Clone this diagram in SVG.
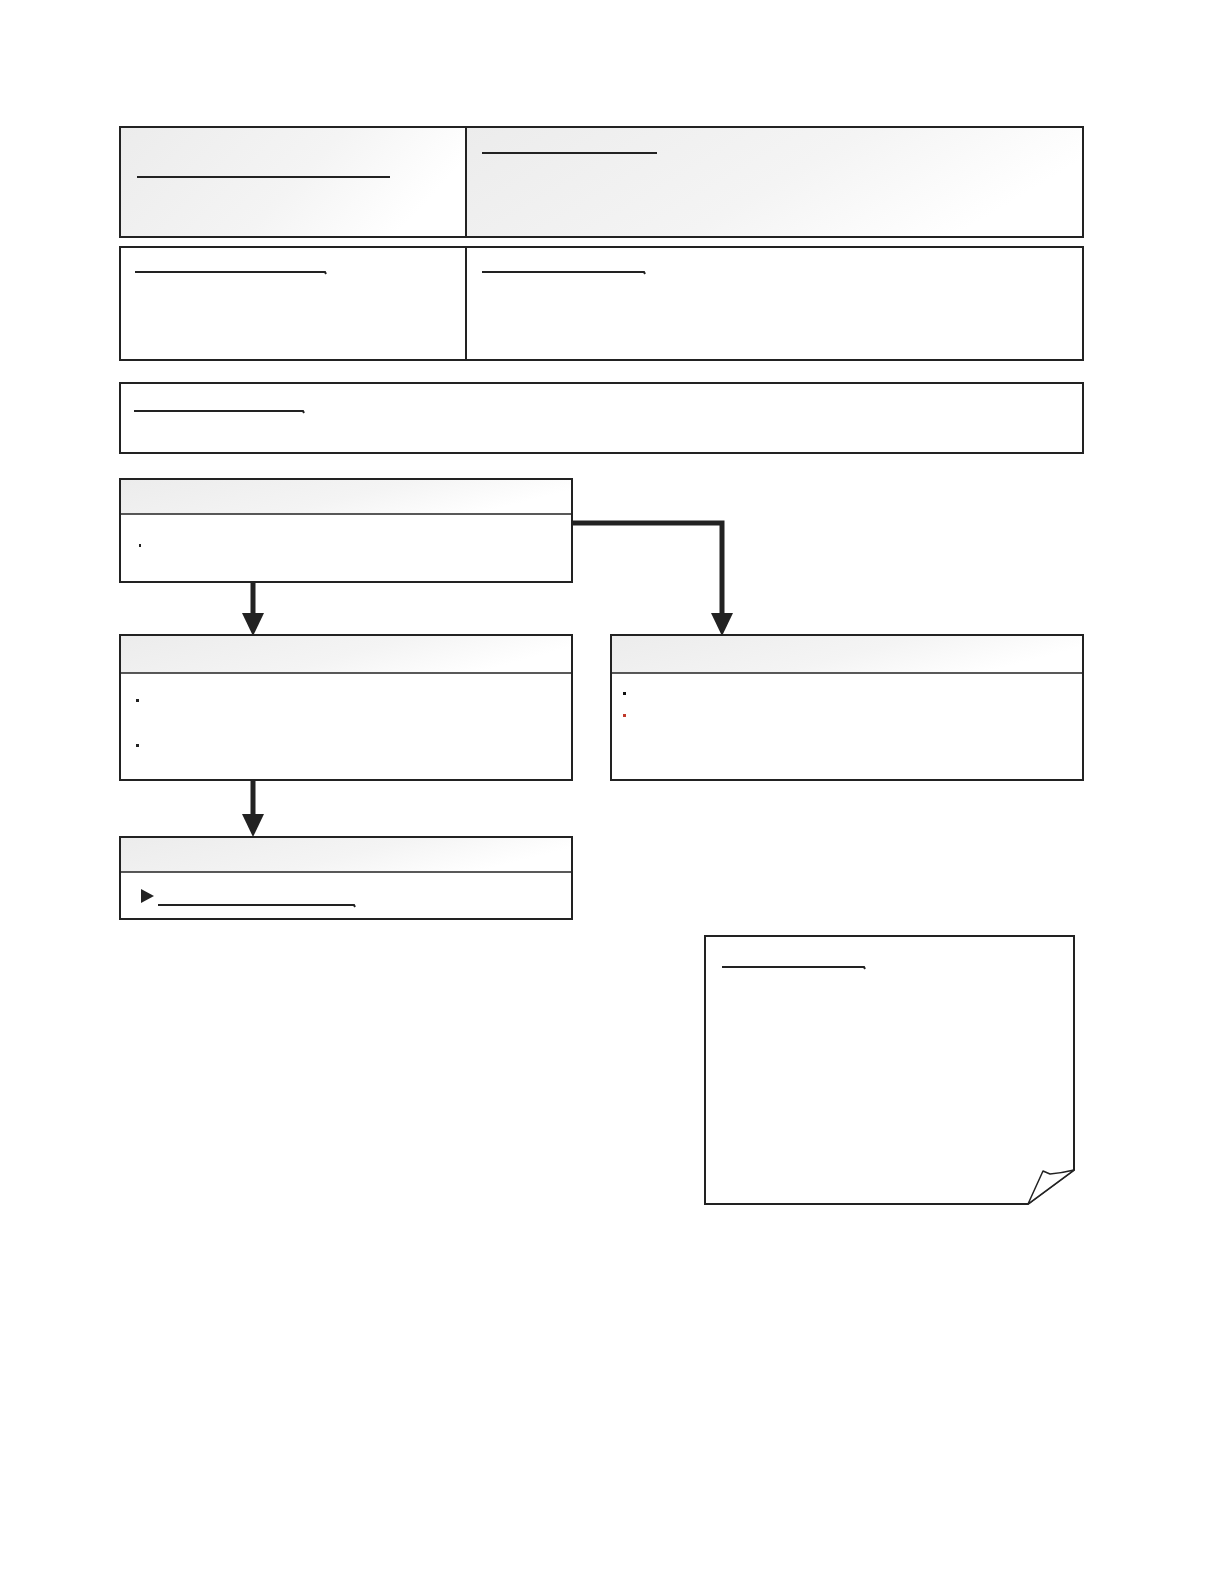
<svg xmlns="http://www.w3.org/2000/svg" width="1224" height="1584" viewBox="0 0 1224 1584">
<defs>
<linearGradient id="g" x1="0" y1="0" x2="1" y2="0.3">
<stop offset="0" stop-color="#ececec"/>
<stop offset="0.6" stop-color="#f4f4f4"/>
<stop offset="1" stop-color="#ffffff"/>
</linearGradient>
<marker id="ah" markerWidth="6" markerHeight="6" refX="5" refY="3" orient="auto" markerUnits="strokeWidth">
<path d="M0,0 L6,3 L0,6 Z" fill="#222"/>
</marker>
</defs>
<style>
.box{fill:#fff;stroke:#222;stroke-width:2}
.gbox{fill:url(#g);stroke:#222;stroke-width:2}
.hdr{fill:url(#g)}
.sep{stroke:#222;stroke-width:1.5}
.ul{stroke:#222;stroke-width:2;fill:none}
.conn{stroke:#222;stroke-width:5;fill:none}
.arrow{fill:#222}
</style>
<rect width="1224" height="1584" fill="#fff"/>
<g id="header-left">
<rect class="gbox" x="120" y="127" width="346" height="110"/>
<line class="ul" x1="137" y1="177" x2="390" y2="177"/>
</g>
<g id="header-right">
<rect class="gbox" x="466" y="127" width="617" height="110"/>
<line class="ul" x1="482" y1="153" x2="657" y2="153"/>
</g>
<g id="info-left">
<rect class="box" x="120" y="247" width="346" height="113"/>
<path class="ul" d="M135,272 H325 L326,274"/>
</g>
<g id="info-right">
<rect class="box" x="466" y="247" width="617" height="113"/>
<path class="ul" d="M482,272 H644 L645,274"/>
</g>
<g id="summary">
<rect class="box" x="120" y="383" width="963" height="70"/>
<path class="ul" d="M134,411 H303 L304,413"/>
</g>
<g id="node-a">
<rect class="box" x="120" y="479" width="452" height="103"/>
<rect class="hdr" x="121" y="480" width="450" height="34"/>
<line class="sep" x1="120" y1="514" x2="572" y2="514"/>
<rect x="139" y="544" width="2" height="3" fill="#222"/>
</g>
<g id="node-b">
<rect class="box" x="120" y="635" width="452" height="145"/>
<rect class="hdr" x="121" y="636" width="450" height="37"/>
<line class="sep" x1="120" y1="673" x2="572" y2="673"/>
<rect x="136" y="699" width="3" height="3" fill="#222"/>
<rect x="136" y="744" width="3" height="3" fill="#222"/>
</g>
<g id="node-c">
<rect class="box" x="611" y="635" width="472" height="145"/>
<rect class="hdr" x="612" y="636" width="470" height="37"/>
<line class="sep" x1="611" y1="673" x2="1083" y2="673"/>
<rect x="623" y="692" width="3" height="3" fill="#111"/>
<rect x="623" y="714" width="3" height="3" fill="#c0392b"/>
</g>
<g id="node-d">
<rect class="box" x="120" y="837" width="452" height="82"/>
<rect class="hdr" x="121" y="838" width="450" height="34"/>
<line class="sep" x1="120" y1="872" x2="572" y2="872"/>
<path d="M141,889 L154,896 L141,903 Z" fill="#222"/>
<path class="ul" d="M158,905 H354 L355,907"/>
</g>
<g id="note">
<path d="M705,936 H1074 V1170 L1028,1204 H705 Z" fill="#fff" stroke="#222" stroke-width="2"/>
<path d="M1028,1204 L1043,1171 L1050,1174 Q1062,1173 1074,1170 Z" fill="#fff" stroke="#222" stroke-width="1.5" stroke-linejoin="round"/>
<path class="ul" d="M722,967 H864 L865,969"/>
</g>
<g id="connectors">
<line class="conn" x1="253" y1="582" x2="253" y2="614"/>
<path class="arrow" d="M242,613 L264,613 L253,636 Z"/>
<path class="conn" d="M572,523 H722 V614"/>
<path class="arrow" d="M711,613 L733,613 L722,636 Z"/>
<line class="conn" x1="253" y1="780" x2="253" y2="815"/>
<path class="arrow" d="M242,814 L264,814 L253,837 Z"/>
</g>
</svg>
